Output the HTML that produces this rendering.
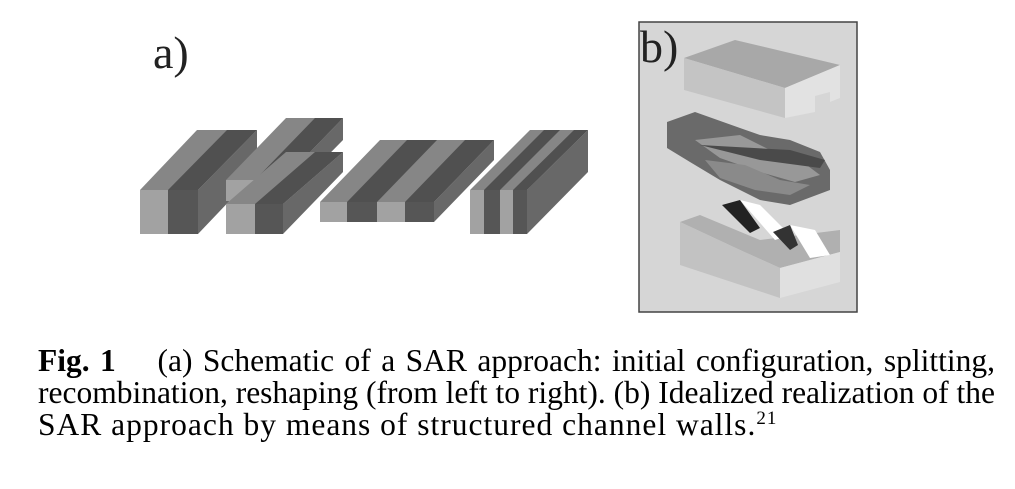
<!DOCTYPE html>
<html><head><style>
html,body{margin:0;padding:0;background:#fff;width:1015px;height:489px;overflow:hidden}
.cap{position:absolute;left:38px;top:345px;width:957px;font-family:"Liberation Serif",serif;font-size:31.5px;line-height:32px;color:#000;text-align:justify}
.l{display:block;text-align-last:justify;white-space:nowrap}
.l3{display:block;white-space:nowrap;letter-spacing:1px}
sup{font-size:19px;line-height:0;vertical-align:0;position:relative;top:-11px}
.lab{position:absolute;font-family:"Liberation Serif",serif;font-size:46px;color:#222}
</style></head><body>
<svg width="1015" height="489" style="position:absolute;left:0;top:0">
<polygon points="140,190 198,190 257,130 197,130" fill="#868686"/>
<polygon points="168,190 198,190 257,130 227,130" fill="#505050"/>
<polygon points="140,190 168,190 168,234 140,234" fill="#a2a2a2"/>
<polygon points="168,190 198,190 198,234 168,234" fill="#565656"/>
<polygon points="198,190 257,130 257,172 198,234" fill="#686868"/>
<polygon points="226,180 283,180 343,118 286,118" fill="#868686"/>
<polygon points="255,180 283,180 343,118 315,118" fill="#505050"/>
<rect x="226" y="180" width="29" height="21" fill="#a2a2a2"/>
<rect x="255" y="180" width="28" height="21" fill="#565656"/>
<polygon points="283,180 343,118 343,140 283,201" fill="#686868"/>
<polygon points="226,204 283,204 343,152 286,152" fill="#868686"/>
<polygon points="255,204 283,204 343,152 315,152" fill="#505050"/>
<rect x="226" y="204" width="29" height="30" fill="#a2a2a2"/>
<rect x="255" y="204" width="28" height="30" fill="#565656"/>
<polygon points="283,204 343,152 343,172 283,234" fill="#686868"/>
<polygon points="320,202 434,202 494,140 380,140" fill="#868686"/>
<polygon points="347,202 377,202 437,140 407,140" fill="#505050"/>
<polygon points="405,202 434,202 494,140 465,140" fill="#505050"/>
<rect x="320" y="202" width="27" height="20" fill="#a2a2a2"/>
<rect x="347" y="202" width="30" height="20" fill="#565656"/>
<rect x="377" y="202" width="28" height="20" fill="#a2a2a2"/>
<rect x="405" y="202" width="29" height="20" fill="#565656"/>
<polygon points="434,202 494,140 494,160 434,222" fill="#686868"/>
<polygon points="470,190 527,190 588,130 530,130" fill="#868686"/>
<polygon points="484,190 500,190 560,130 544,130" fill="#505050"/>
<polygon points="513,190 527,190 588,130 574,130" fill="#505050"/>
<rect x="470" y="190" width="14" height="44" fill="#a2a2a2"/>
<rect x="484" y="190" width="16" height="44" fill="#565656"/>
<rect x="500" y="190" width="13" height="44" fill="#a2a2a2"/>
<rect x="513" y="190" width="14" height="44" fill="#565656"/>
<polygon points="527,190 588,130 588,172 527,234" fill="#686868"/>
<rect x="639" y="22" width="218" height="290" fill="#d6d6d6" stroke="#444" stroke-width="1.5"/>
<polygon points="684,58 735,40 840,65 785,88" fill="#a8a8a8"/>
<polygon points="684,58 785,88 785,118 684,90" fill="#c4c4c4"/>
<polygon points="785,88 840,65 840,98 830,102 830,92 815,96 815,112 785,118" fill="#e2e2e2"/>
<polygon points="667,122 695,112 740,128 760,135 790,140 820,152 830,170 830,190 790,205 760,200 720,180 690,162 667,148" fill="#6a6a6a"/>
<polygon points="695,140 740,135 770,150 800,160 820,175 795,182 760,172 720,158" fill="#989898"/>
<polygon points="705,160 745,165 780,180 810,185 790,195 755,190 720,178" fill="#8a8a8a"/>
<polygon points="700,145 790,150 825,160 820,168 760,160" fill="#4a4a4a"/>
<polygon points="680,222 700,215 760,240 840,230 840,252 780,268 740,250" fill="#b0b0b0"/>
<polygon points="680,222 740,250 780,268 780,298 680,265" fill="#c2c2c2"/>
<polygon points="780,268 840,252 840,282 780,298" fill="#e0e0e0"/>
<polygon points="740,200 760,205 790,235 775,240" fill="#ffffff"/>
<polygon points="790,225 815,230 830,255 810,258" fill="#ffffff"/>
<polygon points="722,205 740,200 760,228 750,233" fill="#222"/>
<polygon points="773,232 790,225 798,245 790,250" fill="#333"/>
</svg>
<div class="lab" style="left:153px;top:26px">a)</div>
<div class="lab" style="left:640px;top:20px">b)</div>
<div class="cap"><span class="l"><b>Fig. 1</b>&nbsp;&nbsp;&nbsp; (a) Schematic of a SAR approach: initial configuration, splitting,</span><span class="l">recombination, reshaping (from left to right). (b) Idealized realization of the</span><span class="l3">SAR approach by means of structured channel walls.<sup>21</sup></span></div>
</body></html>
